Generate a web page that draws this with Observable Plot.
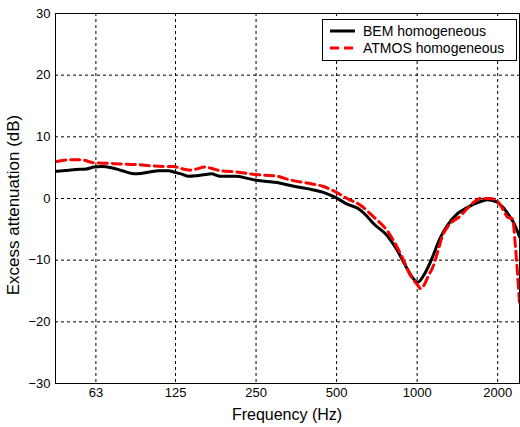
<!DOCTYPE html>
<html><head><meta charset="utf-8">
<script src="https://cdn.jsdelivr.net/npm/d3@7"></script>
<script src="https://cdn.jsdelivr.net/npm/@observablehq/plot@0.6"></script>
<style>body{margin:0;background:#fff} svg{display:block;overflow:visible}</style>
</head><body><div id="chart"></div>
<script>
// Data
const bemFreq = [45,50,53,58,62,66,72,79,85,90,100,108,118,123,131,140,150,162,170,184,200,212,230,248,270,300,336,388,446,499,547,600,640,688,772,842,918,960,1003,1060,1121,1222,1300,1411,1520,1628,1750,1827,1900,1992,2100,2201,2300,2413];
const bemDb   = [4.4,4.6,4.7,4.8,5.1,5.2,5.0,4.5,4.1,4.0,4.3,4.5,4.5,4.3,4.0,3.6,3.7,3.9,4.0,3.6,3.6,3.6,3.3,3.0,2.8,2.6,2.1,1.6,1.0,0.1,-0.9,-1.6,-2.6,-4.1,-6.0,-8.4,-11.4,-12.8,-13.6,-12.4,-10.3,-6.3,-4.3,-2.5,-1.6,-0.9,-0.4,-0.2,-0.3,-0.6,-1.5,-2.7,-4.0,-6.2];
const atmFreq = [45,51,55,62,70,78,90,101,115,123,130,142,150,162,170,184,212,248,300,336,388,446,499,547,614,688,772,842,889,918,960,1003,1029,1056,1100,1150,1200,1240,1300,1452,1550,1628,1724,1880,1992,2102,2176,2272,2331,2372,2413];
const atmDb   = [6.0,6.3,6.3,5.8,5.7,5.6,5.5,5.3,5.2,5.2,4.9,4.6,4.8,5.1,4.9,4.5,4.3,3.9,3.6,3.0,2.5,1.95,1.0,0.0,-1.1,-3.0,-5.2,-7.9,-10.0,-11.4,-13.0,-14.0,-14.6,-14.2,-12.6,-10.9,-8.3,-6.2,-4.6,-2.8,-1.5,-0.6,0.0,0.0,-0.4,-1.9,-3.0,-3.3,-7.9,-12.2,-17];
const xTicks = [63,125,250,500,1000,2000];
const xTickLabels = ["63","125","250","500","1000","2000"];
const yTicks = [-30,-20,-10,0,10,20,30];
const seriesNames = ["BEM homogeneous","ATMOS homogeneous"];

const bem = bemFreq.map((f,i)=>({f, db: bemDb[i]}));
const atm = atmFreq.map((f,i)=>({f, db: atmDb[i]}));
const xt = xTicks.map((v,i)=>({v, label: xTickLabels[i]}));
const font = "'Liberation Sans', Arial, sans-serif";

const plot = Plot.plot({
  width: 520, height: 427,
  marginLeft: 55, marginRight: 1, marginTop: 13, marginBottom: 44,
  style: {fontFamily: font, fontSize: "13px", background: "#fff", color: "#000"},
  x: {type: "log", domain: [44.5, 2413], label: null, axis: null},
  y: {domain: [-30, 30], label: null},
  marks: [
    Plot.ruleX(xt, {x: "v", stroke: "#000", strokeWidth: 1, strokeDasharray: "3,3"}),
    Plot.gridY(yTicks.slice(1,-1), {stroke: "#000", strokeOpacity: 1, strokeWidth: 1, strokeDasharray: "3,3"}),
    Plot.text(xt, {x: "v", text: "label", frameAnchor: "bottom", dy: 13, fontSize: 13, fill: "#000"}),
    Plot.axisY(yTicks, {tickSize: 0, tickPadding: 5, label: null, fontSize: 13}),
    Plot.line(bem, {x: "f", y: "db", stroke: "#000", strokeWidth: 3, curve: "monotone-x"}),
    Plot.line(atm, {x: "f", y: "db", stroke: "#ff0000", strokeWidth: 3, strokeDasharray: "9,5", curve: "monotone-x"}),
    Plot.frame({stroke: "#000", strokeWidth: 1})
  ]
});
document.getElementById("chart").appendChild(plot);

const svg = d3.select(plot);
svg.append("text").attr("x", 287).attr("y", 420).attr("text-anchor", "middle")
  .attr("font-family", font).attr("font-size", 16).attr("fill", "#000").text("Frequency (Hz)");
svg.append("text").attr("transform", "translate(19,205) rotate(-90)").attr("text-anchor", "middle")
  .attr("font-family", font).attr("font-size", 17).attr("fill", "#000").text("Excess attenuation (dB)");

const lg = svg.append("g");
lg.append("rect").attr("x", 322.5).attr("y", 19.5).attr("width", 194).attr("height", 41)
  .attr("fill", "#fff").attr("stroke", "#000").attr("stroke-width", 1);
const rows = [{c: "#000", d: null}, {c: "#ff0000", d: "9,5"}];
rows.forEach((r, i) => {
  const y = 31 + i * 17;
  lg.append("line").attr("x1", 330).attr("x2", 355).attr("y1", y).attr("y2", y)
    .attr("stroke", r.c).attr("stroke-width", 3).attr("stroke-dasharray", r.d);
  lg.append("text").attr("x", 363).attr("y", y).attr("dy", "0.35em").attr("text-anchor", "start")
    .attr("font-family", font).attr("font-size", 14).attr("fill", "#000").text(seriesNames[i]);
});
</script>
</body></html>
